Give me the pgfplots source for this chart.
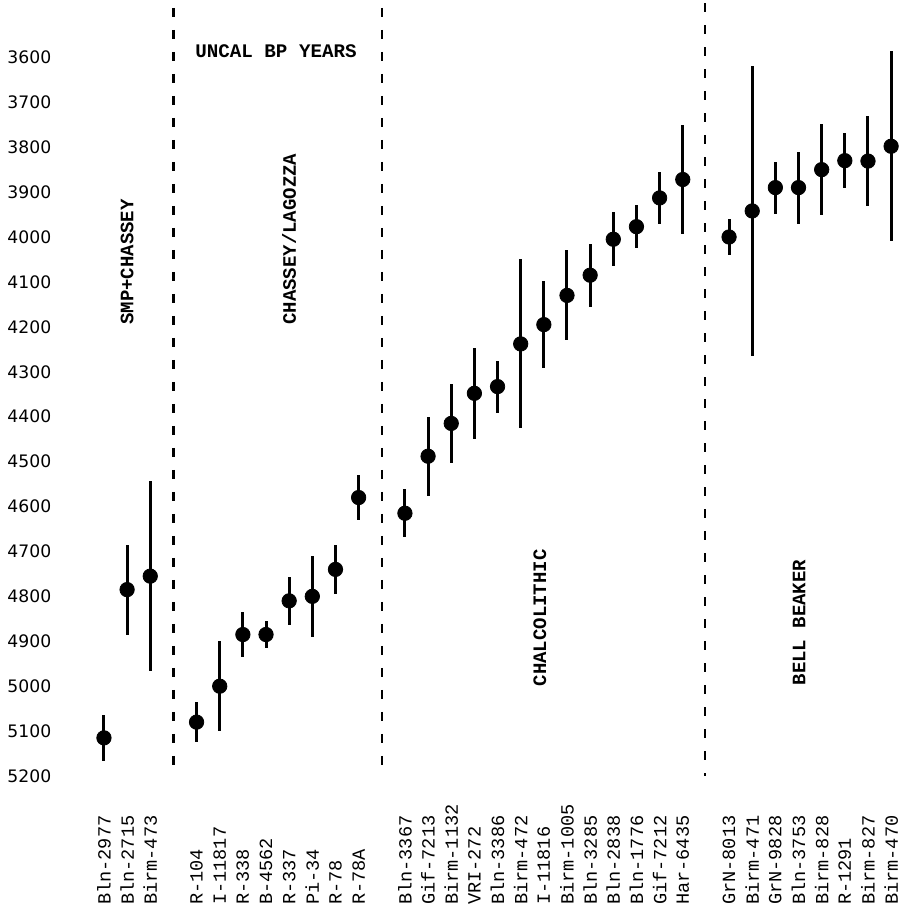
\documentclass[border=0pt]{standalone}
\usepackage{fontspec}
\setmonofont{Liberation Mono}
\newfontfamily\tickfont{DejaVu Sans}
\usepackage{pgfplots}
\pgfplotsset{compat=1.18}

\begin{document}
\begin{tikzpicture}
\begin{axis}[
    width=451pt, height=456pt,
    scale only axis,
    clip=false,
    xmin=-4.49, xmax=34.47,
    ymin=3472.4, ymax=5502.7,
    y dir=reverse,
    axis line style={draw=none},
    tick style={draw=none},
    major tick length=0pt,
    ytick={3600,3700,...,5200},
    /pgf/number format/1000 sep={},
    /pgf/number format/assume math mode=true,
    yticklabel style={font=\tickfont\fontsize{8.6}{10}\selectfont, anchor=west, xshift=0.2pt},
    xtick={0,1,2,4,5,6,7,8,9,10,11,13,14,15,16,17,18,19,20,21,22,23,24,25,27,28,29,30,31,32,33,34},
    xticklabels={Bln-2977,Bln-2715,Birm-473,
        R-104,I-11817,R-338,B-4562,R-337,Pi-34,R-78,R-78A,
        Bln-3367,Gif-7213,Birm-1132,VRI-272,Bln-3386,Birm-472,I-11816,Birm-1005,Bln-3285,Bln-2838,Bln-1776,Gif-7212,Har-6435,
        GrN-8013,Birm-471,GrN-9828,Bln-3753,Birm-828,R-1291,Birm-827,Birm-470},
    xticklabel style={font=\ttfamily\fontsize{9.3}{11}\selectfont, rotate=90, anchor=west},
]

% group separators
\draw[line width=1.1pt, dash pattern=on 4.5pt off 6.5pt] (axis cs:3,3490) -- (axis cs:3,5200);
\draw[line width=1.1pt, dash pattern=on 4.5pt off 6.5pt] (axis cs:12,3490) -- (axis cs:12,5200);
\draw[line width=1.1pt, dash pattern=on 4.5pt off 6.5pt] (axis cs:25.95,3480) -- (axis cs:25.95,5200);

\addplot[
    only marks,
    mark=*,
    mark size=3.6pt,
    black,
    error bars/.cd,
    y dir=both,
    y explicit,
    error mark=none,
    error bar style={line width=1.5pt, black},
] coordinates {
    (0, 5115)  +- (0, 52)
    (1, 4785)  +- (0, 100)
    (2, 4755)  +- (0, 212)
    (4, 5080)  +- (0, 45)
    (5, 5000)  +- (0, 100)
    (6, 4885)  +- (0, 50)
    (7, 4885)  +- (0, 30)
    (8, 4810)  +- (0, 53)
    (9, 4800)  +- (0, 90)
    (10, 4740) +- (0, 55)
    (11, 4580) +- (0, 50)
    (13, 4615) +- (0, 53)
    (14, 4488) +- (0, 88)
    (15, 4415) +- (0, 88)
    (16, 4348) +- (0, 101)
    (17, 4333) +- (0, 58)
    (18, 4238) +- (0, 188)
    (19, 4195) +- (0, 96)
    (20, 4130) +- (0, 100)
    (21, 4085) +- (0, 70)
    (22, 4005) +- (0, 60)
    (23, 3977) +- (0, 48)
    (24, 3913) +- (0, 57)
    (25, 3872) +- (0, 122)
    (27, 4000) +- (0, 40)
    (28, 3942) +- (0, 323)
    (29, 3890) +- (0, 58)
    (30, 3890) +- (0, 80)
    (31, 3850) +- (0, 102)
    (32, 3830) +- (0, 62)
    (33, 3831) +- (0, 101)
    (34, 3798) +- (0, 212)
};

% group labels
\node[font=\ttfamily\bfseries\fontsize{9.6}{11}\selectfont] at (axis cs:7.43,3587) {UNCAL BP YEARS};
\node[font=\ttfamily\bfseries\fontsize{9.5}{11}\selectfont, rotate=90, anchor=west, inner sep=0pt] at (axis cs:1,4196) {SMP+CHASSEY};
\node[font=\ttfamily\bfseries\fontsize{9.5}{11}\selectfont, rotate=90, anchor=west, inner sep=0pt] at (axis cs:8,4196) {CHASSEY/LAGOZZA};
\node[font=\ttfamily\bfseries\fontsize{9.5}{11}\selectfont, rotate=90, anchor=west, inner sep=0pt] at (axis cs:18.83,5001) {CHALCOLITHIC};
\node[font=\ttfamily\bfseries\fontsize{9.5}{11}\selectfont, rotate=90, anchor=west, inner sep=0pt] at (axis cs:30.03,4999) {BELL BEAKER};

\path (rel axis cs:0,0) rectangle (rel axis cs:1,1);
\end{axis}
\end{tikzpicture}
\end{document}
